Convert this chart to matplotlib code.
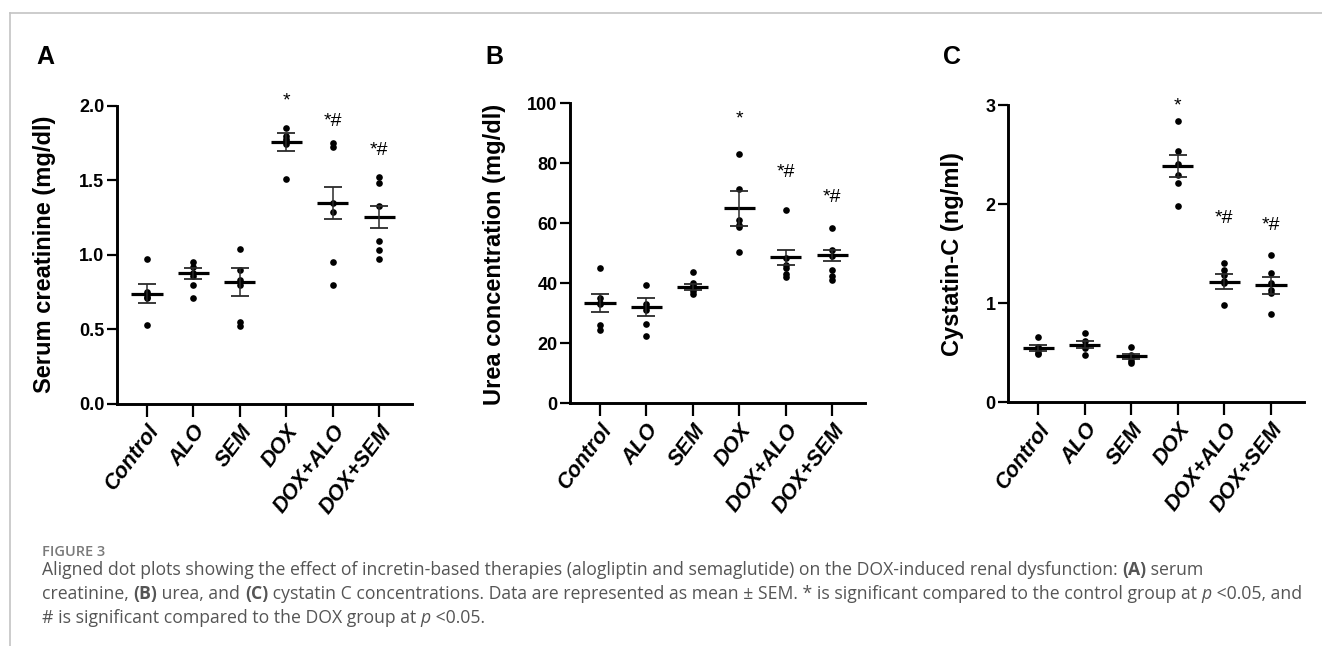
import numpy as np
import matplotlib
matplotlib.use("Agg")
import matplotlib.pyplot as plt
from matplotlib.lines import Line2D

groups = ["Control", "ALO", "SEM", "DOX", "DOX+ALO", "DOX+SEM"]
marks = ["", "", "", "*", "*#", "*#"]

# panel A - serum creatinine (mg/dl)
creat_points = [
    [0.97, 0.75, 0.74, 0.72, 0.71, 0.53],
    [0.95, 0.92, 0.88, 0.86, 0.80, 0.71],
    [1.04, 0.90, 0.83, 0.80, 0.55, 0.52],
    [1.85, 1.80, 1.78, 1.76, 1.74, 1.51],
    [1.75, 1.72, 1.35, 1.29, 0.95, 0.80],
    [1.52, 1.48, 1.33, 1.09, 1.03, 0.97],
]
creat_mean = [0.74, 0.875, 0.82, 1.756, 1.347, 1.254]
creat_sem = [0.065, 0.038, 0.094, 0.063, 0.108, 0.072]
creat_mark_y = [0, 0, 0, 2.0, 1.867, 1.667]

# panel B - urea (mg/dl)
urea_points = [
    [45.0, 35.0, 33.5, 33.0, 26.0, 24.5],
    [39.5, 33.0, 32.0, 31.0, 26.5, 22.5],
    [43.8, 40.0, 39.5, 38.5, 37.5, 36.5],
    [83.0, 71.5, 61.0, 59.5, 58.8, 50.5],
    [64.5, 48.5, 46.0, 45.0, 43.2, 42.0],
    [58.5, 51.0, 49.0, 44.3, 42.5, 41.0],
]
urea_mean = [33.4, 32.1, 38.8, 64.9, 48.6, 49.3]
urea_sem = [3.1, 2.95, 1.0, 5.75, 2.6, 1.9]
urea_mark_y = [0, 0, 0, 93.4, 75.4, 67.1]

# panel C - cystatin C (ng/ml)
cys_points = [
    [0.66, 0.56, 0.55, 0.53, 0.50, 0.49],
    [0.70, 0.62, 0.58, 0.57, 0.55, 0.48],
    [0.56, 0.48, 0.47, 0.45, 0.42, 0.40],
    [2.84, 2.54, 2.40, 2.29, 2.21, 1.98],
    [1.41, 1.33, 1.28, 1.22, 1.20, 0.98],
    [1.49, 1.30, 1.20, 1.13, 1.10, 0.89],
]
cys_mean = [0.545, 0.583, 0.465, 2.384, 1.215, 1.18]
cys_sem = [0.03, 0.038, 0.025, 0.11, 0.076, 0.085]
cys_mark_y = [0, 0, 0, 2.94, 1.805, 1.737]

NARROW = ["Liberation Sans Narrow", "Liberation Sans", "DejaVu Sans"]
SANS = ["Liberation Sans", "DejaVu Sans"]

fig = plt.figure(figsize=(13.22, 6.46), dpi=100)
W, H = 1322, 646


def px_axes(left, top, right, bottom):
    return fig.add_axes([left / W, 1 - bottom / H, (right - left) / W, (bottom - top) / H])


def dot_panel(ax, points, means, sems, mark_y, yticks, ylabels):
    x = np.arange(len(groups))
    for i, pts in enumerate(points):
        ax.plot([x[i]] * len(pts), pts, 'o', color='black', ms=4.8, mew=0, zorder=3)
    ax.hlines(means, x - 0.335, x + 0.335, color='black', lw=2.3, zorder=4)
    ax.errorbar(x, means, yerr=sems, fmt='none', ecolor='#2a2a2a', elinewidth=1.1,
                capsize=6.7, capthick=1.3, zorder=4)
    for i, m in enumerate(marks):
        if m:
            ax.text(x[i], mark_y[i], m, ha='center', va='baseline', fontsize=14,
                    family=NARROW, clip_on=False)
    ax.set_xlim(-0.647, 5.71)
    ax.set_ylim(yticks[0], yticks[-1])
    ax.set_yticks(yticks)
    ax.set_yticklabels(ylabels, family=NARROW, fontweight='bold', fontsize=13)
    ax.set_xticks(x)
    ax.set_xticklabels(groups, rotation=53, ha='right', va='top', rotation_mode='anchor',
                       family=SANS, fontweight='bold', fontstyle='italic', fontsize=15.5)
    ax.tick_params(axis='y', length=7, width=1.6, pad=2)
    ax.tick_params(axis='x', length=9, width=1.6, pad=3)
    for s in ['top', 'right']:
        ax.spines[s].set_visible(False)
    for s in ['left', 'bottom']:
        ax.spines[s].set_linewidth(2.1)


axA = px_axes(117, 105.7, 412, 404)
dot_panel(axA, creat_points, creat_mean, creat_sem, creat_mark_y,
          [0, 0.5, 1.0, 1.5, 2.0], ["0.0", "0.5", "1.0", "1.5", "2.0"])
axB = px_axes(570, 103.3, 865, 403)
dot_panel(axB, urea_points, urea_mean, urea_sem, urea_mark_y,
          [0, 20, 40, 60, 80, 100], ["0", "20", "40", "60", "80", "100"])
axC = px_axes(1008, 105, 1304, 402.3)
dot_panel(axC, cys_points, cys_mean, cys_sem, cys_mark_y,
          [0, 1, 2, 3], ["0", "1", "2", "3"])

# panel letters and y labels (placed in pixel coords)
for letter, lx, ylab in [("A", 45, "Serum creatinine (mg/dl)"),
                         ("B", 494, "Urea concentration (mg/dl)"),
                         ("C", 952, "Cystatin-C (ng/ml)")]:
    fig.text(lx / W, 1 - 57 / H, letter, ha='center', va='center', fontsize=18,
             fontweight='bold', family=SANS)
    fig.text(lx / W, 1 - 254 / H, ylab, ha='center', va='center', rotation=90,
             fontsize=17, fontweight='bold', family=SANS)

# page frame lines
fig.add_artist(Line2D([9.5 / W, 1], [1 - 13 / H, 1 - 13 / H], color='#c4c4c4', lw=1.2))
fig.add_artist(Line2D([9.5 / W, 9.5 / W], [0, 1 - 13 / H], color='#c4c4c4', lw=1.2))

# caption
CAP = ["Open Sans", "DejaVu Sans"]
cap_color = '#555555'
fig.text(42 / W, 1 - 556 / H, "FIGURE 3", fontsize=10.5, fontweight='semibold',
         color='#7a7a7a', family=CAP, va='baseline')

caption_lines = [
    [("Aligned dot plots showing the effect of incretin-based therapies (alogliptin and "
      "semaglutide) on the DOX-induced renal dysfunction: ", {}),
     ("(A)", {'fontweight': 'bold'}), (" serum", {})],
    [("creatinine, ", {}), ("(B)", {'fontweight': 'bold'}), (" urea, and ", {}),
     ("(C)", {'fontweight': 'bold'}),
     (" cystatin C concentrations. Data are represented as mean \u00b1 SEM. * is significant "
      "compared to the control group at ", {}),
     ("p", {'fontstyle': 'italic'}), (" <0.05, and", {})],
    [("# is significant compared to the DOX group at ", {}), ("p", {'fontstyle': 'italic'}),
     (" <0.05.", {})],
]
caption_base = [575, 599, 623]

renderer = fig.canvas.get_renderer()
for segs, base in zip(caption_lines, caption_base):
    xpos = 42
    for txt, style in segs:
        t = fig.text(xpos / W, 1 - base / H, txt, fontsize=12.7, color=cap_color,
                     family=CAP, va='baseline', **style)
        bb = t.get_window_extent(renderer=renderer)
        xpos += bb.width

fig.savefig("out.png", dpi=100)
